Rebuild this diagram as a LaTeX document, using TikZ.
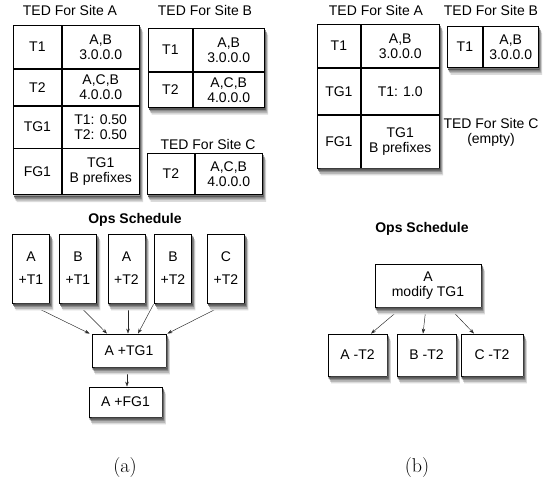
\documentclass[tikz,border=0pt]{standalone}
\usepackage{fontspec}
\setsansfont{Liberation Sans}
\usepackage{tikz}
\usetikzlibrary{arrows.meta, positioning, calc}

\begin{document}
\begin{tikzpicture}[x=1pt, y=-1pt,
    tedcell/.style={
        draw=black, line width=0.8pt, fill=white,
        inner sep=1pt, align=center,
        font=\sffamily\fontsize{14}{15}\selectfont
    },
    tedtitle/.style={align=center, font=\sffamily\fontsize{14}{15}\selectfont},
    opstitle/.style={font=\sffamily\bfseries\fontsize{14}{15}\selectfont},
    opsbox/.style={
        draw=black, line width=0.8pt, fill=white,
        inner sep=1pt, align=center,
        font=\sffamily\fontsize{14}{15}\selectfont
    },
    opsarrow/.style={-{Stealth[length=5pt, width=3.5pt]}, line width=0.45pt, draw=black!85},
    subcaption/.style={font=\rmfamily\fontsize{20}{22}\selectfont}
]
    \useasboundingbox (0,0) rectangle (547,479);

    % (a) tables
    \node[tedtitle] (aAtitle) at (70,10) {TED For Site A};
    \node[tedcell, anchor=north west, minimum width=48pt, minimum height=43pt] (aA1k) at (13,25) {T1};
    \node[tedcell, right=0pt of aA1k, minimum width=77pt, minimum height=43pt] (aA1v) {A,B\\3.0.0.0};
    \node[tedcell, below=0pt of aA1k, minimum width=48pt, minimum height=36pt] (aA2k) {T2};
    \node[tedcell, right=0pt of aA2k, minimum width=77pt, minimum height=36pt] (aA2v) {A,C,B\\4.0.0.0};
    \node[tedcell, below=0pt of aA2k, minimum width=48pt, minimum height=42pt] (aA3k) {TG1};
    \node[tedcell, right=0pt of aA3k, minimum width=77pt, minimum height=42pt] (aA3v) {T1: 0.50\\T2: 0.50};
    \node[tedcell, below=0pt of aA3k, minimum width=48pt, minimum height=46pt] (aA4k) {FG1};
    \node[tedcell, right=0pt of aA4k, minimum width=77pt, minimum height=46pt] (aA4v) {TG1\\B prefixes};

    \node[tedtitle] (aBtitle) at (205,10) {TED For Site B};
    \node[tedcell, anchor=north west, minimum width=44pt, minimum height=43pt] (aB1k) at (148,28) {T1};
    \node[tedcell, right=0pt of aB1k, minimum width=71pt, minimum height=43pt] (aB1v) {A,B\\3.0.0.0};
    \node[tedcell, below=0pt of aB1k, minimum width=44pt, minimum height=35pt] (aB2k) {T2};
    \node[tedcell, right=0pt of aB2k, minimum width=71pt, minimum height=35pt] (aB2v) {A,C,B\\4.0.0.0};

    \node[tedtitle] (aCtitle) at (208,144) {TED For Site C};
    \node[tedcell, anchor=north west, minimum width=47pt, minimum height=41pt] (aC1k) at (147,153) {T2};
    \node[tedcell, right=0pt of aC1k, minimum width=67pt, minimum height=41pt] (aC1v) {A,C,B\\4.0.0.0};

    % (b) tables
    \node[tedtitle] (bAtitle) at (376,10) {TED For Site A};
    \node[tedcell, anchor=north west, minimum width=43pt, minimum height=43pt] (bA1k) at (317,24) {T1};
    \node[tedcell, right=0pt of bA1k, minimum width=78pt, minimum height=43pt] (bA1v) {A,B\\3.0.0.0};
    \node[tedcell, below=0pt of bA1k, minimum width=43pt, minimum height=46pt] (bA2k) {TG1};
    \node[tedcell, right=0pt of bA2k, minimum width=78pt, minimum height=46pt] (bA2v) {T1: 1.0};
    \node[tedcell, below=0pt of bA2k, minimum width=43pt, minimum height=53pt] (bA3k) {FG1};
    \node[tedcell, right=0pt of bA3k, minimum width=78pt, minimum height=53pt] (bA3v) {TG1\\B prefixes};

    \node[tedtitle] (bBtitle) at (491,10) {TED For Site B};
    \node[tedcell, anchor=north west, minimum width=35pt, minimum height=41pt] (bB1k) at (447,26) {T1};
    \node[tedcell, right=0pt of bB1k, minimum width=55pt, minimum height=41pt] (bB1v) {A,B\\3.0.0.0};

    \node[tedtitle] (bCtitle) at (491,132.5) {TED For Site C\\(empty)};

    % (a) ops schedule
    \node[opstitle] (aopstitle) at (135,220) {Ops Schedule};
    \node[opsbox, minimum width=37pt, minimum height=69pt] (aop1) at (31,268.5) {A\\[8pt]+T1};
    \node[opsbox, minimum width=37pt, minimum height=69pt] (aop2) at (78,268.5) {B\\[8pt]+T1};
    \node[opsbox, minimum width=37pt, minimum height=69pt] (aop3) at (126.5,268.5) {A\\[8pt]+T2};
    \node[opsbox, minimum width=37pt, minimum height=69pt] (aop4) at (173,268.5) {B\\[8pt]+T2};
    \node[opsbox, minimum width=37pt, minimum height=69pt] (aop5) at (226,268.5) {C\\[8pt]+T2};
    \node[opsbox, minimum width=74pt, minimum height=33pt] (atg) at (129,350.5) {A +TG1};
    \node[opsbox, minimum width=73pt, minimum height=30pt] (afg) at (125.5,402) {A +FG1};

    \draw[opsarrow, shorten <=4pt] ([xshift=-3pt]aop1.south) -- ([xshift=-2pt]atg.north west);
    \draw[opsarrow, shorten <=4pt] ([xshift=-1pt]aop2.south) -- ([xshift=-22pt]atg.north);
    \draw[opsarrow, shorten <=4pt] ([xshift=1.5pt]aop3.south) -- ([xshift=-1pt]atg.north);
    \draw[opsarrow, shorten <=1pt] ([xshift=-19pt]aop4.south) -- ([xshift=9pt]atg.north);
    \draw[opsarrow, shorten <=4pt] ([xshift=1pt]aop5.south) -- ([xshift=1pt]atg.north east);
    \draw[opsarrow, shorten <=5pt] ([xshift=-2pt]atg.south) -- ([xshift=1.5pt]afg.north);

    % (b) ops schedule
    \node[opstitle] (bopstitle) at (422,229) {Ops Schedule};
    \node[opsbox, minimum width=106pt, minimum height=43pt] (bmod) at (428,285.5) {A\\modify TG1};
    \node[opsbox, minimum width=59pt, minimum height=42pt] (bopA) at (357.5,355) {A -T2};
    \node[opsbox, minimum width=59pt, minimum height=42pt] (bopB) at (426.5,355) {B -T2};
    \node[opsbox, minimum width=62pt, minimum height=42pt] (bopC) at (492,355) {C -T2};

    \draw[opsarrow, shorten <=3pt] ([xshift=-26pt]bmod.south) -- ([xshift=13.5pt]bopA.north);
    \draw[opsarrow, shorten <=3pt] ([xshift=-2pt]bmod.south) -- ([xshift=-3.5pt]bopB.north);
    \draw[opsarrow, shorten <=3pt] ([xshift=21pt]bmod.south) -- ([xshift=-18pt]bopC.north);

    % soft shadows along the lower and right edges
    \foreach \first/\last in {aA1k/aA4v, aB1k/aB2v, aC1k/aC1v, bA1k/bA3v, bB1k/bB1v,
            aop1/aop1, aop2/aop2, aop3/aop3, aop4/aop4, aop5/aop5, atg/atg, afg/afg,
            bmod/bmod, bopA/bopA, bopB/bopB, bopC/bopC} {
        \foreach \d/\c in {3.5/14, 2.7/28, 1.9/45, 1.1/65} {
            \fill[black!\c]
                ($(\first.west |- \last.south)+(\d,0.45)$) -- ($(\first.west |- \last.south)+(\d,2*\d)$)
                -- ($(\last.south east)+(\d,2*\d)$) -- ($(\last.east |- \first.north)+(\d,2*\d)$)
                -- ($(\last.east |- \first.north)+(0.45,2*\d)$) -- ($(\last.south east)+(0.45,0.45)$) -- cycle;
        }
    }

    \node[subcaption] (acap) at (125,468) {(a)};
    \node[subcaption] (bcap) at (417,468) {(b)};
\end{tikzpicture}
\end{document}
